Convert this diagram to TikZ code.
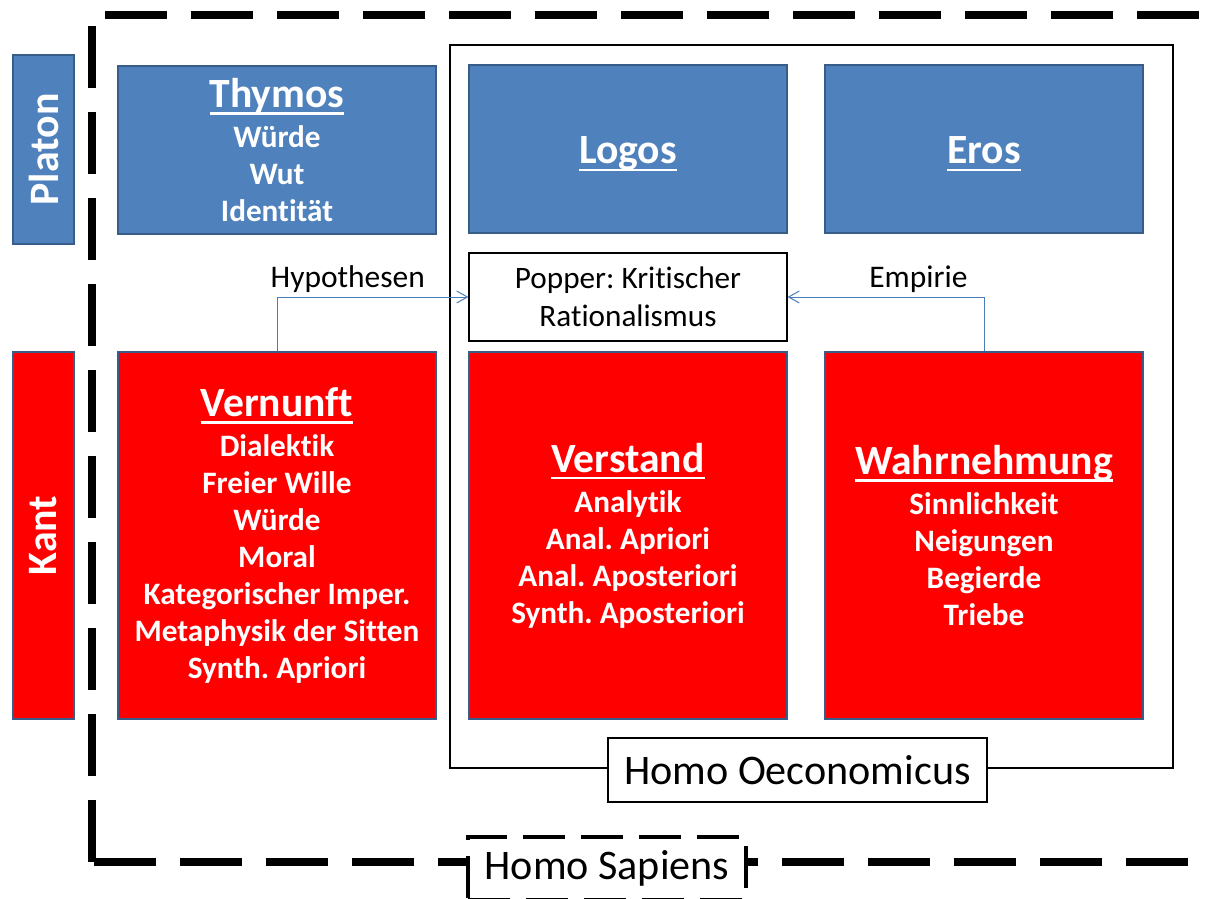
\documentclass[tikz,border=0pt]{standalone}
\usepackage{fontspec}
\setmainfont{Carlito}[Ligatures=NoCommon]
\usepackage{tikz}
\usetikzlibrary{arrows.meta}
\frenchspacing

\definecolor{platoBlue}{RGB}{79,129,189}
\definecolor{boxEdge}{RGB}{56,93,138}
\definecolor{kantRed}{RGB}{255,0,0}
\definecolor{lineBlue}{RGB}{74,126,187}

\newcommand{\bodyfont}{\bfseries\fontsize{23.4}{27.75}\selectfont}
\newcommand{\hd}[1]{{\fontsize{31.2}{33}\selectfont\setbox0\hbox{#1}\rlap{\rule[-5.5pt]{\wd0}{2pt}}\box0}}

\begin{document}
\begin{tikzpicture}[x=0.75pt,y=0.75pt,yscale=-1,xscale=1,
  platobox/.style={draw=boxEdge, line width=2.2pt, fill=platoBlue, text=white, font=\bodyfont, align=center, minimum width=238.5pt, minimum height=126pt},
  kantbox/.style={draw=boxEdge, line width=2.2pt, fill=kantRed, text=white, font=\bodyfont, align=center, minimum width=238.5pt, minimum height=275.25pt},
  sidelabel/.style={draw=boxEdge, line width=2.2pt, text=white, font=\bfseries\fontsize{31.4}{33}\selectfont, rotate=90, minimum height=45.75pt},
  flow/.style={draw=lineBlue, line width=0.75pt, -{Straight Barb[length=8pt,width=9pt]}},
  flowlabel/.style={above, inner sep=3pt, font=\fontsize{23.6}{27}\selectfont, text=black}]
\useasboundingbox (0,0) rectangle (1208,899); %set diagram size to 1208 x 899

%Dashed Rectangle: Homo Sapiens
\draw [line width=5.3pt, dash pattern=on 46.5pt off 18pt] (92,862) -- (92,15) -- (1212,15) -- (1212,862) -- cycle ;
%Rectangle: Homo Oeconomicus
\draw [line width=2.2pt] (450,45) rectangle (1173,768) ;

% Side labels
\node [sidelabel, fill=platoBlue, minimum width=141.75pt] (platon) at (43.5,149.5) {Platon};
\node [sidelabel, fill=kantRed, minimum width=275.25pt] (kant) at (43.5,535.5) {Kant};

% Platon boxes
\node [platobox] (thymos) at (277,150) {\hd{Thymos}\\[2.25pt] Würde\\ Wut\\ Identität};
\node [platobox, text height=22.5pt, text depth=0pt] (logos) at (628,149) {\hd{Logos}};
\node [platobox, text height=22.5pt, text depth=0pt] (eros) at (984,149) {\hd{Eros}};

% Text Node
\node [draw, line width=0.9pt, fill=white, align=center, font=\fontsize{23.4}{28.5}\selectfont, minimum width=238.5pt, minimum height=66pt] (popper) at (628,297) {Popper: Kritischer\\ Rationalismus};

% Kant boxes
\node [kantbox] (vernunft) at (277,535.5) {\hd{Vernunft}\\[2.25pt] Dialektik\\ Freier Wille\\ Würde\\ Moral\\ Kategorischer Imper.\\ Metaphysik der Sitten\\ Synth. Apriori};
\node [kantbox] (verstand) at (628,535.5) {\hd{Verstand}\\[2.25pt] Analytik\\ Anal. Apriori\\ Anal. Aposteriori\\ Synth. Aposteriori};
\node [kantbox] (wahrnehmung) at (984,535.5) {\hd{Wahrnehmung}\\[2.25pt] Sinnlichkeit\\ Neigungen\\ Begierde\\ Triebe};

%Straight Lines
\draw [flow] (vernunft.north) |- (popper.west) node [flowlabel, pos=0.685] (hypo) {Hypothesen};
\draw [flow] (wahrnehmung.north) |- (popper.east) node [flowlabel, pos=0.667] (empirie) {Empirie};

% Frame labels
\node [draw, line width=2.2pt, fill=white, font=\fontsize{31.6}{33}\selectfont, minimum width=284.25pt, minimum height=48pt] (oeco) at (797.5,770) {Homo Oeconomicus};
\node [draw, line width=2.4pt, dash pattern=on 31.5pt off 12pt, fill=white, font=\fontsize{31.6}{33}\selectfont, minimum width=208.5pt, minimum height=47.25pt] (sapiens) at (607,868.5) {Homo Sapiens};

\end{tikzpicture}
\end{document}
